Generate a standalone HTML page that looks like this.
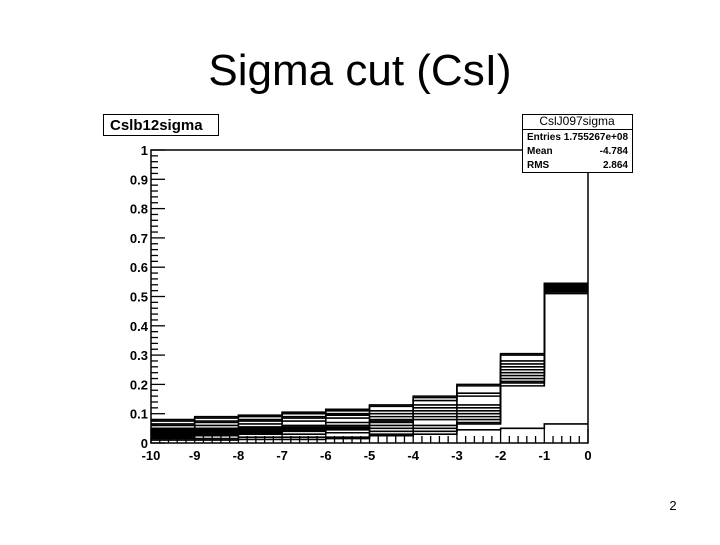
<!DOCTYPE html>
<html><head><meta charset="utf-8"><style>
body{margin:0;width:720px;height:540px;background:#fff;font-family:"Liberation Sans",sans-serif;overflow:hidden}
</style></head><body>
<svg width="720" height="540" xmlns="http://www.w3.org/2000/svg">
<text x="360" y="85" text-anchor="middle" font-size="44" font-family="Liberation Sans, sans-serif">Sigma cut (CsI)</text>
<g id="plot"></g>
<rect x="103.5" y="114.5" width="115" height="21" fill="#fff" stroke="#000"/>
<text x="110" y="130" font-size="15" font-weight="bold">Cslb12sigma</text>
<g>
<rect x="522.5" y="114.5" width="110" height="58" fill="#fff" stroke="#000"/>
<line x1="522.5" y1="129.5" x2="632.5" y2="129.5" stroke="#000"/>
<text x="577" y="125" font-size="12" text-anchor="middle">CslJ097sigma</text>
<text x="527" y="140" font-size="10" font-weight="bold">Entries</text><text x="628" y="140" font-size="10" font-weight="bold" text-anchor="end">1.755267e+08</text>
<text x="527" y="154" font-size="10" font-weight="bold">Mean</text><text x="628" y="154" font-size="10" font-weight="bold" text-anchor="end">-4.784</text>
<text x="527" y="168" font-size="10" font-weight="bold">RMS</text><text x="628" y="168" font-size="10" font-weight="bold" text-anchor="end">2.864</text>
</g>
<text x="673" y="510" font-size="13" text-anchor="middle">2</text>
</svg>
<script>
const binEdges=[-10,-9,-8,-7,-6,-5,-4,-3,-2,-1,0];
const xTicks=[-10,-9,-8,-7,-6,-5,-4,-3,-2,-1,0];
const yTicks=[0,0.1,0.2,0.3,0.4,0.5,0.6,0.7,0.8,0.9,1];
const yTickLabels=["0","0.1","0.2","0.3","0.4","0.5","0.6","0.7","0.8","0.9","1"];
const s1=[.08,.09,.095,.105,.115,.13,.16,.20,.305,.545];
const s2=[.075,.085,.09,.10,.11,.125,.155,.195,.30,.54];
const s3=[.065,.075,.08,.09,.10,.11,.145,.17,.28,.535];
const s4=[.06,.07,.075,.085,.095,.10,.13,.16,.27,.53];
const s5=[.05,.06,.065,.075,.085,.09,.12,.13,.26,.525];
const s6=[.045,.05,.055,.06,.07,.08,.11,.12,.25,.52];
const s7=[.04,.045,.05,.055,.06,.075,.10,.11,.24,.52];
const s8=[.035,.04,.045,.05,.055,.07,.09,.10,.23,.515];
const s9=[.03,.035,.04,.045,.05,.06,.08,.09,.22,.53];
const s10=[.025,.03,.035,.04,.045,.05,.06,.08,.21,.525];
const s11=[.02,.025,.03,.03,.035,.04,.05,.07,.205,.52];
const s12=[.015,.015,.02,.02,.02,.03,.04,.065,.195,.51];
const sLow=[.01,.01,.012,.012,.015,.025,.03,.045,.05,.065];
const series=[s1,s2,s3,s4,s5,s6,s7,s8,s9,s10,s11,s12,sLow];
const X0=151,X1=588,Y0=443,Y1=150;
const xs=v=>X0+(v+10)/10*(X1-X0);
const ys=v=>Y0-v*(Y0-Y1);
const NS="http://www.w3.org/2000/svg";
const g=document.getElementById('plot');
function mk(t,a){const e=document.createElementNS(NS,t);for(const k in a)e.setAttribute(k,a[k]);g.appendChild(e);return e;}
const fr=mk('rect',{x:X0,y:Y1,width:X1-X0,height:Y0-Y1,fill:'none',stroke:'#000','stroke-width':1.5});


series.forEach((s,i)=>{
 let d='';
 s.forEach((v,j)=>{const y=ys(v);d+=(j===0?'M':'L')+xs(binEdges[j])+' '+y+' L'+xs(binEdges[j+1])+' '+y+' ';});
 const p=mk('path',{d:d,fill:'none',stroke:'#000','stroke-width':1.6});
 
 
});
for(let k=0;k<=50;k++){const v=k*0.02;const len=k%5===0?14:7;
 mk('line',{x1:X0,x2:X0+len,y1:ys(v),y2:ys(v),stroke:'#000','stroke-width':1.3});}
yTicks.forEach((v,i)=>{const t=mk('text',{x:X0-3,y:ys(v)+5,'font-size':13,'font-weight':'bold','text-anchor':'end'});t.textContent=yTickLabels[i];
 
 });
for(let k=0;k<=50;k++){const v=-10+k*0.2;const len=k%5===0?14:7;
 mk('line',{x1:xs(v),x2:xs(v),y1:Y0,y2:Y0-len,stroke:'#000','stroke-width':1.3});}
xTicks.forEach(v=>{const t=mk('text',{x:xs(v),y:Y0+17,'font-size':13,'font-weight':'bold','text-anchor':'middle'});t.textContent=String(v);
 
 });
</script>
</body></html>
